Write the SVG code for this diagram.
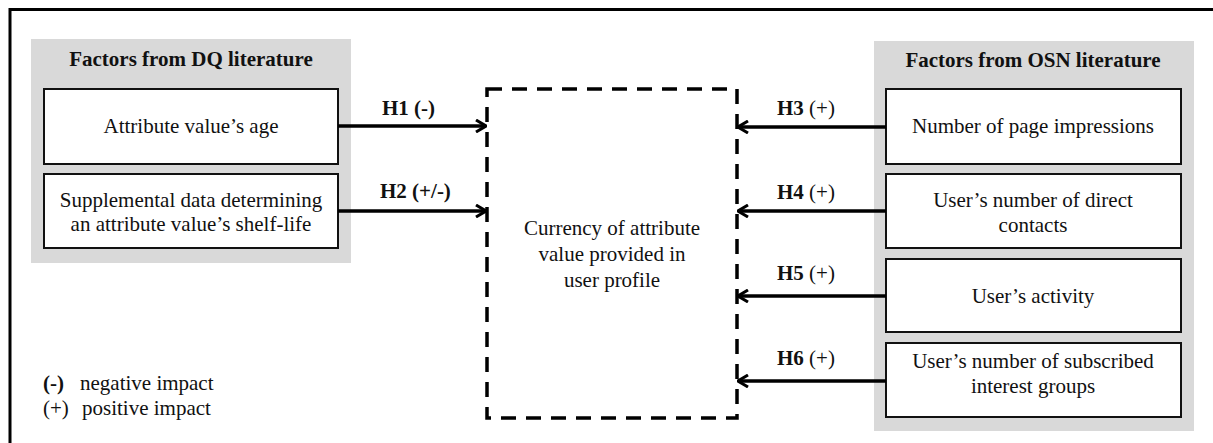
<svg xmlns="http://www.w3.org/2000/svg" width="1213" height="443" viewBox="0 0 1213 443">
  <style>
    text, tspan { font-family: "Liberation Serif", "Times New Roman", serif; font-size: 21px; fill: #111; }
    .b { font-weight: bold; }
    .c { text-anchor: middle; }
    .panel { fill: #d9d9d9; }
    .box { fill: #fff; stroke: #111; stroke-width: 2; }
    .conn { stroke: #000; stroke-width: 3.5; fill: none; marker-end: url(#chev); }
  </style>
  <defs>
    <marker id="chev" viewBox="0 0 12 14" refX="11" refY="7" markerWidth="12" markerHeight="14" markerUnits="userSpaceOnUse" orient="auto">
      <path d="M1,1 L11,7 L1,13" fill="none" stroke="#000" stroke-width="3"/>
    </marker>
  </defs>

  <rect width="1213" height="443" fill="#fff"/>
  <!-- outer frame -->
  <path d="M10,443 V9.5 H1213" fill="none" stroke="#000" stroke-width="3"/>

  <!-- left panel: DQ factors -->
  <g id="panel-dq">
    <rect class="panel" x="31" y="39" width="320" height="224"/>
    <text class="b c" x="191" y="66">Factors from DQ literature</text>
  </g>
  <g id="node-age">
    <rect class="box" x="44" y="89" width="294" height="75"/>
    <text class="c" x="191" y="133">Attribute value’s age</text>
  </g>
  <g id="node-shelf">
    <rect class="box" x="44" y="174" width="294" height="74"/>
    <text class="c" x="191" y="207">Supplemental data determining</text>
    <text class="c" x="191" y="231">an attribute value’s shelf-life</text>
  </g>

  <!-- right panel: OSN factors -->
  <g id="panel-osn">
    <rect class="panel" x="874" y="41" width="320" height="390"/>
    <text class="b c" x="1033" y="67">Factors from OSN literature</text>
  </g>
  <g id="node-impressions">
    <rect class="box" x="886" y="89" width="295" height="75"/>
    <text class="c" x="1033" y="133">Number of page impressions</text>
  </g>
  <g id="node-contacts">
    <rect class="box" x="886" y="174" width="295" height="74"/>
    <text class="c" x="1033" y="207">User’s number of direct</text>
    <text class="c" x="1033" y="232">contacts</text>
  </g>
  <g id="node-activity">
    <rect class="box" x="886" y="259" width="295" height="73"/>
    <text class="c" x="1033" y="303">User’s activity</text>
  </g>
  <g id="node-groups">
    <rect class="box" x="886" y="343" width="295" height="74"/>
    <text class="c" x="1033" y="368">User’s number of subscribed</text>
    <text class="c" x="1033" y="393">interest groups</text>
  </g>

  <!-- central construct -->
  <g id="node-currency">
    <rect x="487" y="89" width="250" height="329" fill="none" stroke="#000" stroke-width="3.5" stroke-dasharray="15 10"/>
    <text class="c" x="612" y="235">Currency of attribute</text>
    <text class="c" x="612" y="261">value provided in</text>
    <text class="c" x="612" y="287">user profile</text>
  </g>

  <!-- hypotheses -->
  <g id="connectors">
    <line class="conn" x1="338" y1="126" x2="486" y2="126"/>
    <line class="conn" x1="338" y1="211" x2="486" y2="211"/>
    <line class="conn" x1="886" y1="127" x2="738" y2="127"/>
    <line class="conn" x1="886" y1="211" x2="738" y2="211"/>
    <line class="conn" x1="886" y1="296" x2="738" y2="296"/>
    <line class="conn" x1="886" y1="381" x2="738" y2="381"/>
    <text class="b" x="382" y="115">H1 (-)</text>
    <text class="b" x="380" y="198">H2 (+/-)</text>
    <text x="777" y="115"><tspan class="b">H3</tspan> (+)</text>
    <text x="777" y="199"><tspan class="b">H4</tspan> (+)</text>
    <text x="777" y="280"><tspan class="b">H5</tspan> (+)</text>
    <text x="777" y="365"><tspan class="b">H6</tspan> (+)</text>
  </g>

  <!-- legend -->
  <g id="legend">
    <text class="b" x="43" y="390">(-)</text>
    <text x="80" y="390">negative impact</text>
    <text x="43" y="415">(+)</text>
    <text x="82" y="415">positive impact</text>
  </g>
</svg>
